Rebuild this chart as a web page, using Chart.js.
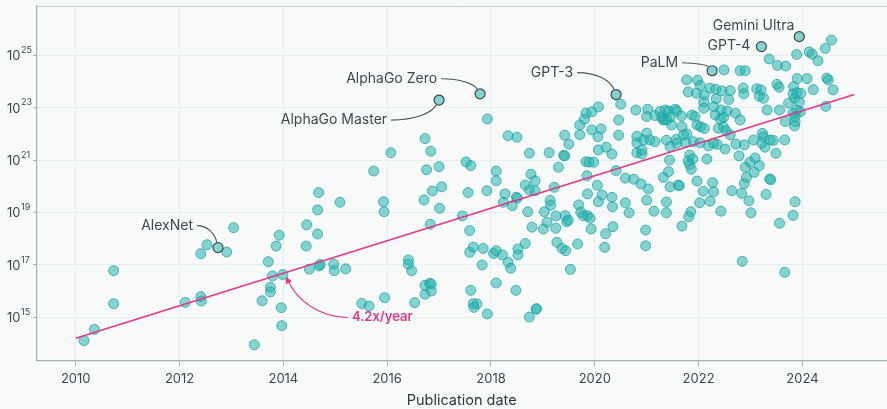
<!DOCTYPE html>
<html>
<head>
<meta charset="utf-8">
<script src="https://cdn.jsdelivr.net/npm/chart.js@4.4.1/dist/chart.umd.min.js"></script>
<style>
  html, body { margin: 0; padding: 0; background: #f8fafa; }
  #myChart { display: block; background: #f8fafa; }
</style>
</head>
<body>
<canvas id="myChart" width="887" height="409"></canvas>
<script>
// publication date (decimal year) and log10 of training compute (FLOP)
const pubYear = [
  2010.16, 2010.36, 2010.73, 2010.73, 2012.11, 2012.41, 2012.42, 2012.41, 2012.53, 2012.91,
  2013.04, 2013.44, 2013.59, 2013.71, 2013.75, 2013.75, 2013.79, 2013.86, 2013.92, 2013.96,
  2013.97, 2013.99, 2014.45, 2014.68, 2014.66, 2014.66, 2014.44, 2014.50, 2014.69, 2014.71,
  2014.97, 2014.98, 2015.20, 2015.09, 2015.51, 2015.65, 2015.95, 2015.74, 2015.93, 2015.94,
  2016.07, 2016.73, 2016.84, 2016.76, 2017.00, 2016.87, 2017.05, 2016.71, 2017.01, 2016.83,
  2016.41, 2016.41, 2016.47, 2016.53, 2016.73, 2016.82, 2016.85, 2016.73, 2016.85, 2017.93,
  2017.45, 2017.59, 2017.59, 2017.66, 2017.85, 2017.83, 2017.61, 2017.66, 2017.73, 2017.67,
  2017.93, 2018.05, 2018.10, 2018.10, 2018.22, 2018.33, 2018.38, 2018.48, 2018.52, 2018.52,
  2018.66, 2018.71, 2018.79, 2018.87, 2018.88, 2018.74, 2019.01, 2019.08, 2019.03, 2019.14,
  2019.15, 2019.25, 2019.25, 2019.27, 2019.37, 2019.44, 2019.53, 2019.43, 2019.46, 2019.49,
  2019.67, 2019.69, 2019.73, 2019.78, 2019.86, 2019.91, 2019.93, 2018.24, 2018.41, 2020.07,
  2017.52, 2017.61, 2017.56, 2017.92, 2018.10, 2018.10, 2018.27, 2018.49, 2018.51, 2018.74,
  2019.12, 2019.40, 2019.42, 2019.30, 2018.77, 2018.85, 2018.66, 2018.74, 2018.85, 2019.22,
  2018.33, 2018.50, 2019.42, 2019.50, 2019.71, 2019.80, 2019.83, 2019.94, 2020.07, 2019.71,
  2019.83, 2019.89, 2019.98, 2020.07, 2019.94, 2020.12, 2020.06, 2019.86, 2020.05, 2019.85,
  2020.22, 2020.33, 2020.41, 2020.14, 2020.33, 2020.34, 2020.21, 2020.35, 2020.19, 2020.59,
  2020.75, 2020.89, 2021.03, 2020.59, 2020.66, 2021.00, 2021.14, 2021.38, 2021.38, 2020.98,
  2020.98, 2021.32, 2021.42, 2021.45, 2020.81, 2020.94, 2020.81, 2020.91, 2021.06, 2021.16,
  2020.50, 2020.46, 2020.46, 2020.79, 2021.02, 2021.00, 2021.16, 2021.32, 2021.26, 2020.81,
  2021.00, 2020.91, 2021.36, 2021.42, 2021.55, 2021.58, 2021.29, 2021.34, 2021.39, 2021.45,
  2021.67, 2021.48, 2021.68, 2021.38, 2021.57, 2021.77, 2021.90, 2021.58, 2021.44, 2021.61,
  2021.63, 2021.97, 2021.45, 2021.75, 2021.83, 2021.80, 2021.89, 2021.83, 2021.86, 2022.09,
  2022.27, 2022.29, 2022.22, 2022.02, 2021.85, 2021.81, 2021.68, 2022.16, 2022.19, 2022.36,
  2022.51, 2022.43, 2022.64, 2022.72, 2022.88, 2022.78, 2022.90, 2022.99, 2023.09, 2023.17,
  2023.07, 2022.92, 2022.88, 2022.83, 2022.97, 2023.01, 2023.37, 2023.39, 2023.30, 2023.28,
  2023.49, 2023.56, 2023.82, 2023.86, 2022.84, 2023.66, 2022.49, 2022.80, 2022.90, 2021.77,
  2021.98, 2022.03, 2021.80, 2021.96, 2022.22, 2022.33, 2022.45, 2022.61, 2022.11, 2022.34,
  2022.58, 2022.86, 2022.87, 2023.12, 2023.20, 2023.17, 2023.25, 2022.10, 2022.10, 2022.29,
  2022.43, 2022.55, 2022.71, 2022.80, 2021.87, 2021.93, 2021.97, 2022.04, 2022.11, 2022.32,
  2022.42, 2022.48, 2022.38, 2022.48, 2022.53, 2022.61, 2021.71, 2022.03, 2022.29, 2023.23,
  2023.25, 2023.38, 2023.44, 2023.22, 2023.06, 2023.66, 2023.32, 2023.56, 2023.67, 2023.82,
  2023.86, 2023.85, 2023.96, 2023.86, 2023.73, 2023.85, 2023.94, 2023.89, 2023.83, 2023.82,
  2023.89, 2023.97, 2024.09, 2023.90, 2024.21, 2024.47, 2024.50, 2024.59, 2024.45, 2023.51,
  2023.55, 2023.36, 2023.52, 2023.68, 2023.89, 2024.13, 2024.19, 2024.30, 2024.44, 2024.56
];
const log10Flop = [
  14.11, 14.54, 15.52, 16.78, 15.57, 15.79, 15.62, 17.43, 17.77, 17.49,
  18.42, 13.95, 15.63, 17.12, 16.15, 15.97, 16.58, 17.72, 18.13, 15.37,
  14.68, 16.63, 18.53, 19.76, 19.10, 18.18, 17.72, 16.84, 16.96, 17.02,
  17.03, 16.78, 16.85, 19.39, 15.53, 15.43, 15.75, 20.58, 19.41, 19.03,
  21.28, 21.82, 21.34, 20.63, 20.75, 19.82, 19.98, 19.48, 19.16, 18.55,
  17.19, 17.03, 16.78, 15.56, 16.22, 16.30, 16.26, 15.88, 16.00, 22.57,
  18.87, 18.31, 17.48, 17.68, 17.63, 17.00, 16.03, 15.52, 15.51, 15.38,
  15.13, 17.44, 17.54, 16.31, 17.38, 17.10, 16.87, 16.03, 17.61, 17.38,
  17.82, 19.03, 18.44, 15.31, 15.33, 15.01, 18.37, 18.63, 19.03, 19.46,
  19.28, 18.87, 18.40, 17.86, 17.63, 17.54, 16.83, 18.88, 18.65, 18.71,
  17.80, 19.29, 19.01, 18.88, 18.88, 18.78, 18.37, 19.39, 19.26, 19.41,
  20.93, 20.79, 19.76, 19.83, 20.58, 20.21, 19.71, 19.58, 19.55, 21.26,
  21.28, 21.18, 21.16, 20.73, 20.46, 20.21, 20.05, 19.86, 19.83, 19.96,
  21.93, 21.87, 21.95, 21.61, 22.34, 22.56, 22.79, 22.84, 23.03, 21.97,
  20.94, 20.92, 20.92, 21.39, 22.15, 22.19, 21.89, 19.71, 20.04, 20.40,
  21.49, 21.23, 20.60, 19.67, 19.58, 19.22, 18.19, 18.46, 17.67, 20.31,
  20.27, 20.09, 19.90, 19.37, 18.99, 19.47, 19.05, 19.40, 18.99, 18.33,
  17.73, 20.34, 20.56, 19.98, 21.66, 21.77, 21.28, 21.23, 21.77, 21.70,
  23.13, 22.53, 21.95, 22.91, 22.94, 22.66, 22.70, 22.53, 22.85, 21.91,
  22.03, 21.39, 22.91, 22.87, 22.94, 22.87, 22.63, 22.55, 22.53, 22.63,
  22.68, 22.34, 22.27, 21.76, 21.79, 22.00, 21.70, 21.64, 21.00, 20.05,
  20.02, 20.20, 21.51, 21.66, 21.19, 20.97, 21.04, 20.82, 20.65, 19.81,
  20.14, 19.79, 19.43, 19.37, 19.03, 18.84, 18.48, 21.04, 21.54, 21.60,
  21.42, 19.05, 19.83, 21.61, 21.58, 21.16, 20.73, 20.92, 21.08, 20.79,
  20.53, 20.34, 20.10, 19.73, 19.45, 18.99, 20.28, 20.25, 19.69, 21.49,
  21.26, 18.59, 18.89, 19.41, 17.14, 16.72, 24.44, 24.41, 24.41, 24.06,
  24.05, 23.85, 23.60, 23.55, 23.74, 23.70, 23.64, 23.65, 23.48, 23.34,
  23.31, 23.75, 23.53, 23.72, 23.68, 23.44, 23.36, 23.22, 22.98, 23.04,
  22.91, 22.87, 22.79, 22.53, 22.72, 22.66, 22.34, 22.27, 22.21, 22.72,
  22.56, 22.63, 22.21, 22.26, 22.12, 21.96, 21.96, 21.66, 21.64, 22.02,
  21.89, 21.77, 21.75, 21.64, 21.77, 21.77, 22.91, 22.91, 22.47, 22.79,
  22.47, 22.30, 22.85, 22.66, 23.17, 23.36, 23.21, 22.91, 23.80, 23.52,
  23.57, 23.55, 24.11, 24.11, 23.69, 24.13, 24.06, 23.68, 23.05, 23.89,
  23.78, 24.86, 24.61, 24.59, 25.03, 25.13, 25.04, 24.79, 25.26, 25.58
];

// models called out on the chart
const notableNames = ["AlexNet", "AlphaGo Master", "AlphaGo Zero", "GPT-3", "PaLM", "GPT-4", "Gemini Ultra"];
const notableYear = [2012.74, 2017.00, 2017.79, 2020.41, 2022.26, 2023.21, 2023.94];
const notableLog10 = [17.66, 23.29, 23.53, 23.50, 24.41, 25.33, 25.71];

// fitted trend, 4.2x per year
const trendYear = [2010, 2025];
const trendLog10 = [14.2, 23.5];
const trendLabel = "4.2x/year";

const xTickYears = [2010, 2012, 2014, 2016, 2018, 2020, 2022, 2024];
const yTickExps = [15, 17, 19, 21, 23, 25];

// label placement (pixels from the point), leader = draw a curved line
const labelLayout = {
  "AlexNet":        { dx: -25, dy: -22, leader: true },
  "AlphaGo Master": { dx: -52, dy: 20,  leader: true },
  "AlphaGo Zero":   { dx: -43, dy: -15, leader: true },
  "GPT-3":          { dx: -43, dy: -22, leader: true },
  "PaLM":           { dx: -34, dy: -8,  leader: true },
  "GPT-4":          { dx: -11, dy: -1,  leader: false },
  "Gemini Ultra":   { dx: -5,  dy: -11, leader: false }
};
const trendNoteYear = 2014.05;

const FONT = "Inter, 'Noto Sans', sans-serif";
const TEXT = "#3c474e";
const AXIS = "#9fb0b6";
const GRID = "#e2eef0";
const PINK = "#e2378b";

const toPoints = (xs, ys) => xs.map((x, i) => ({ x: x, y: Math.pow(10, ys[i]) }));

// y labels as 10^n, frame line, annotations
const overlay = {
  id: "overlay",
  afterDraw(chart) {
    const { ctx, chartArea, scales } = chart;
    const xs = scales.x, ys = scales.y;
    ctx.save();

    // top frame
    ctx.strokeStyle = "#c3cfd3";
    ctx.lineWidth = 1;
    ctx.beginPath();
    ctx.moveTo(chartArea.left, chartArea.top + 0.5);
    ctx.lineTo(chartArea.right, chartArea.top + 0.5);
    ctx.stroke();

    // y tick labels
    ctx.fillStyle = TEXT;
    ctx.textAlign = "left";
    ctx.textBaseline = "middle";
    yTickExps.forEach(e => {
      const py = ys.getPixelForValue(Math.pow(10, e));
      ctx.font = "13px " + FONT;
      ctx.fillText("10", 7, py + 1);
      const w = ctx.measureText("10").width;
      ctx.font = "9px " + FONT;
      ctx.fillText(String(e), 7 + w + 0.5, py - 5);
    });

    // notable labels + leader curves
    ctx.font = "14px " + FONT;
    ctx.textAlign = "right";
    notableNames.forEach((name, i) => {
      const lay = labelLayout[name];
      const px = xs.getPixelForValue(notableYear[i]);
      const py = ys.getPixelForValue(Math.pow(10, notableLog10[i]));
      const tx = px + lay.dx, ty = py + lay.dy;
      ctx.fillStyle = TEXT;
      ctx.fillText(name, tx, ty);
      if (lay.leader) {
        const sx = tx + 4, sy = ty;
        const c1x = sx + (px - sx) * 0.5, c1y = sy;
        const c2x = px - (px - sx) * 0.15, c2y = sy + (py - sy) * 0.35;
        const vx = c2x - px, vy = c2y - py, len = Math.hypot(vx, vy);
        const ex = px + vx / len * 5.5, ey = py + vy / len * 5.5;
        ctx.strokeStyle = "#4a575e";
        ctx.lineWidth = 1.1;
        ctx.beginPath();
        ctx.moveTo(sx, sy);
        ctx.bezierCurveTo(c1x, c1y, c2x, c2y, ex, ey);
        ctx.stroke();
      }
    });

    // trend note with arrow
    const ax = xs.getPixelForValue(trendNoteYear);
    const slope = (trendLog10[1] - trendLog10[0]) / (trendYear[1] - trendYear[0]);
    const ay = ys.getPixelForValue(Math.pow(10, trendLog10[0] + slope * (trendNoteYear - trendYear[0]))) + 4;
    const lx = ax + 66, ly = ay + 41;
    ctx.font = "600 13px " + FONT;
    ctx.textAlign = "left";
    ctx.fillStyle = PINK;
    ctx.fillText(trendLabel, lx, ly);
    ctx.strokeStyle = PINK;
    ctx.lineWidth = 1.1;
    const c2x = ax + 10, c2y = ay + 22;
    ctx.beginPath();
    ctx.moveTo(lx - 4, ly);
    ctx.bezierCurveTo(lx - 34, ly, c2x, c2y, ax + 2, ay + 4);
    ctx.stroke();
    // arrow head
    const dx = ax - c2x, dy = ay - c2y, d = Math.hypot(dx, dy);
    const ux = dx / d, uy = dy / d;
    ctx.fillStyle = PINK;
    ctx.beginPath();
    ctx.moveTo(ax, ay);
    ctx.lineTo(ax - ux * 7 - uy * 3.5, ay - uy * 7 + ux * 3.5);
    ctx.lineTo(ax - ux * 7 + uy * 3.5, ay - uy * 7 - ux * 3.5);
    ctx.closePath();
    ctx.fill();

    ctx.restore();
  }
};

const ctx = document.getElementById("myChart");
new Chart(ctx, {
  type: "scatter",
  data: {
    datasets: [
      {
        label: "Trend",
        type: "line",
        data: toPoints(trendYear, trendLog10),
        borderColor: PINK,
        borderWidth: 1.6,
        pointRadius: 0,
        order: 0
      },
      {
        label: "Notable models",
        data: toPoints(notableYear, notableLog10),
        backgroundColor: "rgba(38, 178, 175, 0.55)",
        borderColor: "#3a4950",
        borderWidth: 1.2,
        pointRadius: 5,
        order: 1
      },
      {
        label: "Models",
        data: toPoints(pubYear, log10Flop),
        backgroundColor: "rgba(38, 178, 175, 0.55)",
        borderColor: "rgba(20, 160, 157, 0.7)",
        borderWidth: 1,
        pointRadius: 5,
        order: 2
      }
    ]
  },
  options: {
    responsive: false,
    animation: false,
    layout: { autoPadding: false, padding: { top: 6, right: 0, bottom: 0, left: 0 } },
    plugins: { legend: { display: false }, tooltip: { enabled: false } },
    scales: {
      x: {
        type: "linear",
        min: 2009.24,
        max: 2025.63,
        afterBuildTicks: s => { s.ticks = xTickYears.map(v => ({ value: v })); },
        afterFit: s => { s.height = 48.7; s.paddingLeft = 0; s.paddingRight = 0; },
        ticks: {
          color: TEXT,
          font: { family: FONT, size: 13 },
          padding: 5,
          maxRotation: 0,
          callback: v => String(v)
        },
        grid: { color: GRID, tickColor: AXIS, tickLength: 6 },
        border: { color: AXIS, width: 1.2 },
        title: {
          display: true,
          text: "Publication date",
          color: "#2c363c",
          font: { family: FONT, size: 14.5 },
          padding: { top: 0, bottom: 0 }
        }
      },
      y: {
        type: "logarithmic",
        min: Math.pow(10, 13.36),
        max: Math.pow(10, 26.88),
        afterBuildTicks: s => { s.ticks = yTickExps.map(e => ({ value: Math.pow(10, e) })); },
        afterFit: s => { s.width = 36.3; s.paddingTop = 0; s.paddingBottom = 0; },
        ticks: { display: false },
        grid: { color: GRID, tickColor: AXIS, tickLength: 3 },
        border: { color: AXIS, width: 1.2 }
      }
    }
  },
  plugins: [overlay]
});
</script>
</body>
</html>
